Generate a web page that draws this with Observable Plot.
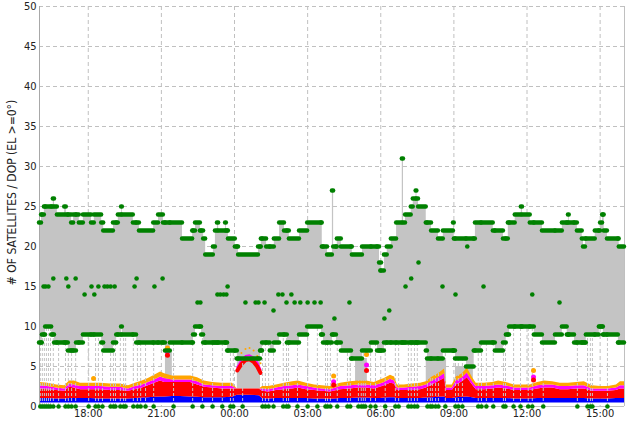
<!DOCTYPE html>
<html><head><meta charset="utf-8">
<script src="https://cdn.jsdelivr.net/npm/d3@7"></script>
<script src="https://cdn.jsdelivr.net/npm/@observablehq/plot@0.6"></script>
<style>body{margin:0;background:#fff;}</style>
</head><body><div id="chart"></div>
<script>
// time = minutes after 16:00 (start of the 24 h window)
const tickMinutes = [120,300,480,660,840,1020,1200,1380];
const tickLabels = ["18:00","21:00","00:00","03:00","06:00","09:00","12:00","15:00"];
const yTicks = [0,5,10,15,20,25,30,35,40,45,50];
const yTitle = "# OF SATELLITES / DOP (EL >=0°)";

// satellite count: step breakpoints (value holds until the next breakpoint)
const satMinutes = [0,5,7,12,15,30,34,37,44,62,
 66,71,79,84,91,98,108,128,135,153,
 158,182,190,194,202,204,231,239,246,281,
 293,305,310,322,352,377,379,384,396,399,
 404,409,428,433,438,441,458,460,463,465,
 482,487,490,539,544,546,549,559,568,578,
 591,603,610,615,640,660,694,696,699,709,
 721,724,731,733,743,768,770,795,817,832,
 837,842,849,856,866,879,893,896,901,915,
 920,927,929,933,952,955,965,982,994,1019,
 1021,1024,1051,1070,1073,1088,1117,1122,1142,1149,
 1154,1157,1171,1186,1189,1208,1218,1238,1270,1287,
 1299,1302,1304,1317,1324,1336,1339,1344,1346,1368,
 1378,1381,1386,1388,1390,1398,1425,1427];
const satTop = [23,24,24,25,25,25,26,25,24,25,
 24,24,23,24,24,23,24,23,24,23,
 22,23,23,24,25,24,23,23,22,23,
 24,23,23,23,21,22,22,23,22,22,
 21,19,20,22,23,22,23,22,22,21,
 20,20,19,20,20,21,21,20,20,21,
 23,22,22,21,22,23,23,20,20,19,
 27,20,20,21,20,20,19,20,20,20,
 18,17,19,20,21,23,31,23,24,25,
 26,27,26,25,23,23,22,21,22,23,
 21,21,21,21,23,23,22,22,21,21,
 23,23,24,25,24,23,23,22,22,23,
 23,24,23,23,22,21,20,21,21,22,
 22,23,24,24,22,21,21,20];
const satBottom = [8,8,9,9,10,9,9,8,8,8,
 8,7,7,7,8,8,9,9,9,8,
 7,8,9,9,10,9,9,8,8,8,
 8,8,7,8,8,8,9,10,10,9,
 8,8,8,8,8,8,8,8,7,7,
 7,6,6,6,7,7,8,8,7,8,
 9,9,8,8,9,10,9,9,8,8,
 9,9,8,8,7,6,6,7,8,7,
 7,7,8,8,8,8,8,8,8,8,
 8,8,8,8,7,6,6,6,7,7,
 7,6,5,7,7,8,8,7,8,9,
 9,10,10,10,10,10,9,8,9,10,
 9,9,9,8,8,8,8,8,9,9,
 10,10,10,9,9,9,8,8];

// isolated intermediate satellite-count samples
const midMinutes = [10,15,22,34,66,71,89,111,128,135,145,160,167,175,185,234,239,283,
 303,389,396,438,445,453,460,463,507,532,539,554,576,
 588,598,620,608,628,642,660,677,692,763,726,839,861,849,
 933,915,901,992,1024,1093,1053,1213,1280];
const midValues = [15,15,15,16,16,15,16,14,15,14,15,15,15,15,15,15,16,15,
 16,13,13,14,14,14,14,15,13,13,13,13,12,
 14,14,14,13,13,13,13,13,13,13,11,17,12,11,
 18,16,15,15,14,15,20,14,13];

// epochs with zero satellites
const zeroMinutes = [2,7,12,17,22,27,34,47,64,71,79,89,121,138,145,155,175,182,187,199,
 207,212,231,241,249,261,281,330,377,401,426,450,470,477,500,549,556,564,576,600,
 608,613,635,660,684,704,709,716,733,758,765,785,792,797,802,815,827,851,876,884,
 908,915,923,930,955,962,967,975,982,999,1024,1031,1041,1080,1088,1100,1117,1142,1147,1167,
 1184,1203,1213,1240,1324,1349,1356,1361,1398];

// DOP bands (orange GDOP, magenta PDOP, red, blue)
const dopMinutes = [0,20,42,62,74,86,101,126,150,175,199,219,236,253,268,283,298,308,327,347,
 372,389,406,426,450,475,487,514,541,549,564,583,603,623,637,657,677,696,716,741,
 765,785,805,824,839,849,864,874,881,898,918,938,952,967,982,997,1002,1016,1026,1041,
 1053,1066,1075,1095,1115,1130,1149,1169,1189,1208,1226,1243,1263,1282,1302,1322,1341,1361,1381,1400,
 1420,1430,1440];
const gdop = [3.0,2.9,2.7,2.6,3.2,3.2,2.9,2.9,2.9,2.8,2.8,2.6,2.9,3.2,3.5,3.9,4.3,4.1,3.8,3.8,
 3.8,3.6,3.2,3.0,2.9,2.9,2.2,2.2,2.2,2.5,2.5,2.7,2.9,3.1,3.2,2.9,2.7,2.6,2.5,2.9,
 3.1,3.2,3.2,3.0,3.3,3.5,3.9,3.7,2.7,2.7,2.8,2.9,3.1,3.7,4.1,4.7,2.7,2.7,3.7,4.1,
 4.8,3.6,2.9,2.9,3.0,3.2,3.0,2.7,2.7,2.7,3.0,3.2,3.1,2.9,2.9,3.0,3.1,2.6,2.5,2.5,
 2.7,3.1,3.1];
const pdop = [2.6,2.5,2.3,2.2,2.8,2.7,2.5,2.5,2.5,2.4,2.4,2.2,2.5,2.7,3.0,3.3,3.7,3.5,3.3,3.3,
 3.3,3.1,2.7,2.6,2.5,2.5,2.2,2.2,2.2,2.2,2.1,2.3,2.5,2.6,2.7,2.5,2.3,2.2,2.1,2.5,
 2.6,2.7,2.7,2.6,2.8,3.0,3.4,3.2,2.3,2.3,2.4,2.5,2.7,3.2,3.6,4.1,2.3,2.3,3.2,3.6,
 4.2,3.1,2.5,2.5,2.6,2.7,2.6,2.3,2.3,2.3,2.6,2.7,2.7,2.5,2.5,2.6,2.6,2.2,2.2,2.2,
 2.3,2.6,2.6];
const vdop = [2.2,2.1,2.0,1.9,2.4,2.3,2.1,2.1,2.1,2.0,2.0,1.9,2.1,2.3,2.6,2.9,3.2,3.0,3.0,3.0,
 3.0,2.7,2.4,2.3,2.2,2.2,2.2,2.2,2.2,1.9,1.8,2.0,2.1,2.2,2.3,2.1,2.0,1.9,1.8,2.1,
 2.2,2.3,2.3,2.2,2.4,2.6,2.9,2.8,2.0,2.0,2.0,2.1,2.3,2.7,3.1,3.5,2.0,2.0,2.7,3.1,
 3.6,2.7,2.1,2.1,2.2,2.3,2.2,2.0,2.0,2.0,2.2,2.3,2.3,2.1,2.1,2.2,2.2,1.9,1.9,1.9,
 2.0,2.2,2.2];
const hdop = [1.0,1.0,0.95,0.95,1.0,1.0,1.0,1.0,0.95,0.95,0.95,0.95,1.0,1.05,1.1,1.15,1.2,1.2,1.25,1.25,
 1.2,1.15,1.1,1.1,1.1,1.15,1.4,1.4,1.35,1.0,0.95,1.0,1.0,1.0,1.0,1.0,0.95,0.95,0.9,1.0,
 1.0,1.05,1.05,1.0,1.0,1.05,1.1,1.1,1.0,1.0,1.0,1.0,1.05,1.1,1.15,1.2,1.0,1.0,1.1,1.15,
 1.2,1.1,1.0,1.0,1.0,1.0,1.0,0.95,0.95,0.95,1.0,1.0,1.0,1.0,1.0,1.0,1.0,0.95,0.95,0.95,
 1.0,1.0,1.0];
const dopFloor = 0.45;

// DOP excursion around midnight
const archMinutes = [487,497,507,517,527,536,544];
const archRed = [4.5,5.3,5.8,5.9,5.6,5.0,4.2];
const archMagenta = [4.9,5.8,6.3,6.4,6.1,5.5,4.6];
const archOrange = [5.8,6.7,7.2,7.3,7.0,6.3,5.4];

// single-epoch DOP spikes
const spikeMinutes = [133,315,724,805,1216];
const spikeOrange = [3.5,7.3,3.8,6.5,4.5];
const spikeMagenta = [null,6.8,3.1,5.2,3.7];
const spikeRed = [null,6.4,2.7,4.5,3.3];

// low-count grey regions
const greyStart = [310,487,778,952,1024];
const greyEnd = [327,544,807,1002,1068];
const greyLow = [3.0,2.2,3.0,2.8,3.0];
const greyHigh = [7,6,6,6,5];

// ---- build tables ----
const sat = satMinutes.map((m,i)=>({m, m2: i+1<satMinutes.length ? satMinutes[i+1] : 1440, top: satTop[i], bot: satBottom[i]}));
const satArea = [...sat, {m:1440, top: satTop[satTop.length-1], bot: satBottom[satBottom.length-1]}];
const bis = d3.bisector(d=>d.m).right;
const botAt = m => sat[Math.max(0, bis(sat, m)-1)].bot;
const zeros = zeroMinutes.map(m=>({m, bot: botAt(m)}));
const mids = midMinutes.map((m,i)=>({m, v: midValues[i]}));
const dop = dopMinutes.map((m,i)=>({m, o:gdop[i], p:pdop[i], r:vdop[i], b:hdop[i]}));
const arch = archMinutes.map((m,i)=>({m, r:archRed[i], p:archMagenta[i], o:archOrange[i]}));
const spikes = spikeMinutes.map((m,i)=>({m, o:spikeOrange[i], p:spikeMagenta[i], r:spikeRed[i]}));
const greys = greyStart.map((m,i)=>({m0:m, m1:greyEnd[i], lo:greyLow[i], hi:greyHigh[i]}));

const GREEN = "#008000", GREY = "#c4c4c4";
const plot = Plot.plot({
  width: 632, height: 421,
  marginLeft: 39, marginRight: 8, marginTop: 6, marginBottom: 15,
  x: {domain: [0, 1440]},
  y: {domain: [0, 50]},
  style: {fontFamily: "'DejaVu Sans Condensed','DejaVu Sans',sans-serif", fontSize: "11px", color: "#222", background: "#fff"},
  marks: [
    Plot.gridY(yTicks.filter(v=>v>0), {stroke: "#c0c0c0", strokeOpacity: 1, strokeDasharray: "4,3"}),
    Plot.gridX(tickMinutes, {stroke: "#c0c0c0", strokeOpacity: 1, strokeDasharray: "4,3"}),
    Plot.ruleX([1440], {stroke: "#c0c0c0"}),
    Plot.areaY(satArea, {x: "m", y1: "bot", y2: "top", curve: "step-after", fill: GREY}),
    Plot.rect(greys, {x1: "m0", x2: "m1", y1: "lo", y2: "hi", fill: GREY}),
    Plot.areaY(dop, {x: "m", y1: dopFloor, y2: "b", fill: "#0000ff"}),
    Plot.areaY(dop, {x: "m", y1: "b", y2: "r", fill: "#ff0000"}),
    Plot.areaY(dop, {x: "m", y1: "r", y2: "p", fill: "#ff00ff"}),
    Plot.areaY(dop, {x: "m", y1: "p", y2: "o", fill: "#ffa500"}),
    Plot.dot(arch, {x: "m", y: "o", r: 1, fill: "#ffa500"}),
    Plot.line(arch, {x: "m", y: "p", stroke: "#ff00ff", strokeWidth: 2}),
    Plot.line(arch, {x: "m", y: "r", stroke: "#ff0000", strokeWidth: 4}),
    Plot.ruleX(zeros, {x: "m", y1: 0, y2: "bot", stroke: GREY, strokeDasharray: "3,2"}),
    Plot.ruleY([0], {stroke: "#c0c0c0"}),
    Plot.ruleX([0], {stroke: "#a8a8a8"}),
    Plot.dot(spikes, {x: "m", y: "o", r: 2.5, fill: "#ffa500"}),
    Plot.dot(spikes.filter(d=>d.p!=null), {x: "m", y: "p", r: 2.5, fill: "#ff00ff"}),
    Plot.dot(spikes.filter(d=>d.r!=null), {x: "m", y: "r", r: 2.5, fill: "#ff0000"}),
    Plot.ruleY(sat, {x1: "m", x2: "m2", y: "bot", stroke: GREEN, strokeWidth: 4.4, strokeLinecap: "round"}),
    Plot.ruleY(sat, {x1: "m", x2: "m2", y: "top", stroke: GREEN, strokeWidth: 4.4, strokeLinecap: "round"}),
    Plot.dot(mids, {x: "m", y: "v", r: 2.3, fill: GREEN}),
    Plot.dot(zeros, {x: "m", y: 0, r: 2.3, fill: GREEN}),
    Plot.axisY({ticks: yTicks, tickSize: 0, tickPadding: 3, label: null}),
    Plot.axisX({ticks: tickMinutes, tickFormat: d => tickLabels[tickMinutes.indexOf(d)], tickSize: 0, tickPadding: 3, label: null}),
    Plot.text([yTitle], {frameAnchor: "left", textAnchor: "middle", rotate: -90, dx: -27, dy: -14, text: d => d, fill: "#222", fontSize: 12})
  ]
});
document.getElementById("chart").appendChild(plot);
</script>
</body></html>
